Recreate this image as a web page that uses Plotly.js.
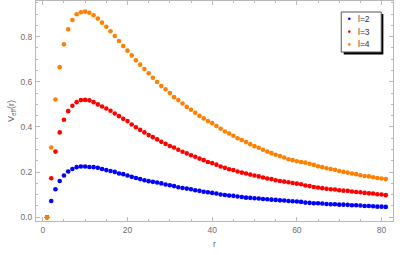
<!DOCTYPE html>
<html>
<head>
<meta charset="utf-8">
<script src="https://cdn.plot.ly/plotly-3.0.1.min.js"></script>
<style>html,body{margin:0;padding:0;background:#fff;}#chart{width:409px;height:255px;}</style>
</head>
<body>
<div id="chart"></div>
<script>
// r values 1..81
var r = [];
for (var i = 1; i <= 81; i++) r.push(i);

var seriesNames = ["l=2", "l=3", "l=4"];
var seriesColors = ["rgb(0,0,255)", "rgb(255,0,0)", "rgb(255,128,0)"];

var vL2 = [0, 0.072, 0.124, 0.161, 0.185, 0.203, 0.214, 0.222, 0.225, 0.225,
  0.223, 0.222, 0.219, 0.214, 0.209, 0.205, 0.201, 0.194, 0.191, 0.185,
  0.179, 0.174, 0.169, 0.164, 0.160, 0.157, 0.154, 0.150, 0.145, 0.142,
  0.138, 0.133, 0.130, 0.127, 0.124, 0.120, 0.117, 0.113, 0.111, 0.108,
  0.105, 0.101, 0.099, 0.096, 0.095, 0.092, 0.090, 0.087, 0.086, 0.084,
  0.083, 0.081, 0.080, 0.078, 0.077, 0.075, 0.074, 0.072, 0.071, 0.070,
  0.068, 0.065, 0.064, 0.062, 0.062, 0.061, 0.059, 0.058, 0.058, 0.056,
  0.056, 0.055, 0.053, 0.053, 0.052, 0.050, 0.050, 0.049, 0.047, 0.047,
  0.046];

var vL3 = [0, 0.173, 0.291, 0.376, 0.432, 0.470, 0.494, 0.510, 0.519, 0.520,
  0.518, 0.510, 0.500, 0.491, 0.482, 0.472, 0.460, 0.448, 0.436, 0.426,
  0.411, 0.399, 0.387, 0.376, 0.364, 0.355, 0.345, 0.334, 0.325, 0.316,
  0.309, 0.299, 0.290, 0.283, 0.275, 0.268, 0.260, 0.253, 0.245, 0.240,
  0.233, 0.225, 0.219, 0.213, 0.209, 0.203, 0.198, 0.194, 0.189, 0.185,
  0.181, 0.176, 0.172, 0.169, 0.164, 0.161, 0.158, 0.155, 0.152, 0.149,
  0.146, 0.141, 0.138, 0.134, 0.132, 0.129, 0.126, 0.124, 0.123, 0.120,
  0.118, 0.117, 0.114, 0.112, 0.111, 0.108, 0.106, 0.105, 0.102, 0.101,
  0.098];

var vL4 = [0, 0.309, 0.522, 0.665, 0.766, 0.833, 0.874, 0.899, 0.908, 0.911,
  0.906, 0.895, 0.880, 0.862, 0.844, 0.824, 0.803, 0.781, 0.759, 0.738,
  0.717, 0.695, 0.676, 0.657, 0.638, 0.618, 0.599, 0.581, 0.567, 0.550,
  0.532, 0.519, 0.504, 0.489, 0.476, 0.463, 0.449, 0.438, 0.426, 0.417,
  0.404, 0.392, 0.380, 0.371, 0.361, 0.350, 0.342, 0.333, 0.324, 0.315,
  0.308, 0.299, 0.291, 0.284, 0.277, 0.271, 0.265, 0.257, 0.253, 0.248,
  0.245, 0.242, 0.237, 0.232, 0.226, 0.222, 0.217, 0.214, 0.210, 0.205,
  0.201, 0.198, 0.194, 0.191, 0.186, 0.183, 0.181, 0.177, 0.174, 0.172,
  0.169];

var xTicks = [0, 20, 40, 60, 80];
var yTicks = [0, 0.2, 0.4, 0.6, 0.8];
var yTickText = ["0.0", "0.2", "0.4", "0.6", "0.8"];

var allSeries = [vL2, vL3, vL4];
var traces = allSeries.map(function (v, k) {
  return {
    x: r, y: v, type: "scatter", mode: "markers", name: seriesNames[k],
    marker: {color: seriesColors[k], size: 4.6, line: {width: 0}},
    showlegend: false, hoverinfo: "x+y"
  };
});

var frameColor = "#b9b9b9";
var tickFont = {family: "Liberation Sans, Arial, sans-serif", size: 8.5, color: "#6e6e6e"};

// legend drawn as box + shadow + markers + labels
var shapes = [
  {type: "rect", xref: "paper", yref: "paper", x0: 0.862, x1: 0.973, y0: 0.757, y1: 0.941,
   fillcolor: "#000", line: {width: 0}, layer: "above"},
  {type: "rect", xref: "paper", yref: "paper", x0: 0.855, x1: 0.967, y0: 0.768, y1: 0.950,
   fillcolor: "#fff", line: {color: "#555", width: 1}, layer: "above"}
];
var annotations = [];
var entryY = [18.8, 31.6, 44.4];
seriesNames.forEach(function (nm, k) {
  var py = (221 - entryY[k]) / 220;
  var px = (349.3 - 36) / 357;
  shapes.push({type: "circle", xref: "paper", yref: "paper",
    x0: px - 1.3 / 357, x1: px + 1.3 / 357, y0: py - 1.3 / 220, y1: py + 1.3 / 220,
    fillcolor: seriesColors[k], line: {width: 0}, layer: "above"});
  annotations.push({xref: "paper", yref: "paper", x: (356.3 - 36) / 357, y: py,
    xanchor: "left", yanchor: "middle", text: nm, showarrow: false,
    font: {family: "Liberation Sans, Arial, sans-serif", size: 8.5, color: "#333"}});
});

var layout = {
  width: 409, height: 255,
  margin: {l: 36, r: 16, t: 1, b: 34, pad: 0},
  paper_bgcolor: "#fff", plot_bgcolor: "#fff",
  showlegend: false,
  xaxis: {
    range: [-1.6, 82.7], tickvals: xTicks, ticktext: xTicks.map(String),
    showgrid: false, zeroline: false, showline: true, linecolor: frameColor, linewidth: 1,
    mirror: "ticks", ticks: "inside", ticklen: 4, tickcolor: frameColor, tickwidth: 1,
    minor: {dtick: 5, tick0: 0, ticks: "inside", ticklen: 2, tickcolor: frameColor, showgrid: false},
    tickfont: tickFont, ticklabelstandoff: 1,
    title: {text: "r", font: {family: "Liberation Sans, Arial, sans-serif", size: 9, color: "#6e6e6e"}, standoff: 6}
  },
  yaxis: {
    range: [-0.0165, 0.958], tickvals: yTicks, ticktext: yTickText,
    showgrid: false, zeroline: false, showline: true, linecolor: frameColor, linewidth: 1,
    mirror: "ticks", ticks: "inside", ticklen: 4, tickcolor: frameColor, tickwidth: 1,
    minor: {dtick: 0.05, tick0: 0, ticks: "inside", ticklen: 2, tickcolor: frameColor, showgrid: false},
    tickfont: tickFont, ticklabelstandoff: 1,
    title: {text: "V<sub>eff</sub>(r)", font: {family: "Liberation Sans, Arial, sans-serif", size: 9, color: "#6e6e6e"}, standoff: 4}
  },
  shapes: shapes,
  annotations: annotations
};

Plotly.newPlot("chart", traces, layout, {staticPlot: true, displayModeBar: false});
</script>
</body>
</html>
